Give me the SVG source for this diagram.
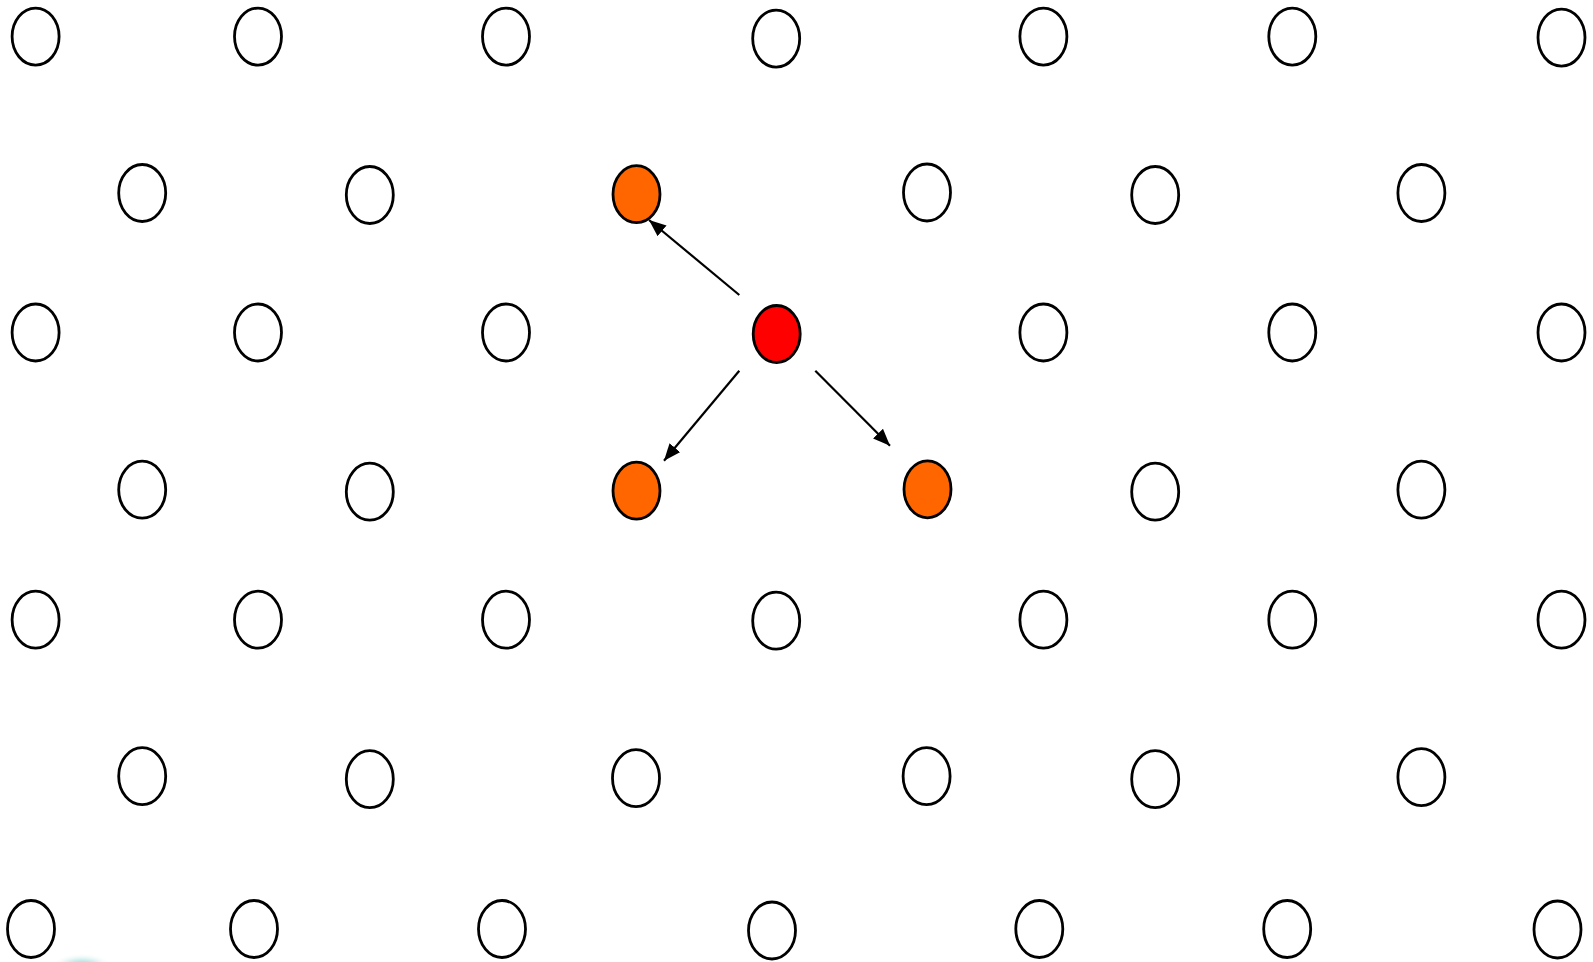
<svg xmlns="http://www.w3.org/2000/svg" width="1593" height="962" viewBox="0 0 1593 962">
  <defs>
    <style>
      .n { fill: #ffffff; stroke: #000000; stroke-width: 2.8; }
      .o { fill: #ff6600; stroke: #000000; stroke-width: 2.8; }
      .r { fill: #ff0000; stroke: #000000; stroke-width: 2.8; }
      .c { stroke: #000000; stroke-width: 2.2; fill: none; marker-end: url(#arr); }
    </style>
    <marker id="arr" markerUnits="userSpaceOnUse" markerWidth="18" markerHeight="14" refX="17" refY="7" orient="auto">
      <path d="M0,0 L17,7 L0,14 z" fill="#000000"/>
    </marker>
    <radialGradient id="smudge" cx="0.5" cy="0.5" r="0.5">
      <stop offset="0" stop-color="#2fb5b0" stop-opacity="0.9"/>
      <stop offset="0.6" stop-color="#9fdcd8" stop-opacity="0.4"/>
      <stop offset="1" stop-color="#ffffff" stop-opacity="0"/>
    </radialGradient>
  </defs>
  <rect width="1593" height="962" fill="#ffffff"/>

  <!-- row 1 -->
  <g id="n1-1"><ellipse class="n" cx="35.6" cy="36.6" rx="23.5" ry="28.5"/></g>
  <g id="n1-2"><ellipse class="n" cx="258" cy="36.6" rx="23.5" ry="28.5"/></g>
  <g id="n1-3"><ellipse class="n" cx="506" cy="36.6" rx="23.5" ry="28.5"/></g>
  <g id="n1-4"><ellipse class="n" cx="776.2" cy="38.6" rx="23.5" ry="28.5"/></g>
  <g id="n1-5"><ellipse class="n" cx="1043.4" cy="36.6" rx="23.5" ry="28.5"/></g>
  <g id="n1-6"><ellipse class="n" cx="1292.3" cy="36.6" rx="23.5" ry="28.5"/></g>
  <g id="n1-7"><ellipse class="n" cx="1561.5" cy="37.6" rx="23.5" ry="28.5"/></g>

  <!-- row 2 -->
  <g id="n2-1"><ellipse class="n" cx="142.2" cy="193" rx="23.5" ry="28.5"/></g>
  <g id="n2-2"><ellipse class="n" cx="369.8" cy="195" rx="23.5" ry="28.5"/></g>
  <g id="n2-3"><ellipse class="o" cx="636.5" cy="194.2" rx="23.5" ry="28.5"/></g>
  <g id="n2-4"><ellipse class="n" cx="927" cy="192.5" rx="23.5" ry="28.5"/></g>
  <g id="n2-5"><ellipse class="n" cx="1155.2" cy="195" rx="23.5" ry="28.5"/></g>
  <g id="n2-6"><ellipse class="n" cx="1421.4" cy="193" rx="23.5" ry="28.5"/></g>

  <!-- row 3 -->
  <g id="n3-1"><ellipse class="n" cx="35.6" cy="332.5" rx="23.5" ry="28.5"/></g>
  <g id="n3-2"><ellipse class="n" cx="258" cy="332.5" rx="23.5" ry="28.5"/></g>
  <g id="n3-3"><ellipse class="n" cx="506" cy="332.5" rx="23.5" ry="28.5"/></g>
  <g id="n3-4"><ellipse class="r" cx="776.7" cy="334" rx="23.5" ry="28.5"/></g>
  <g id="n3-5"><ellipse class="n" cx="1043.4" cy="332.5" rx="23.5" ry="28.5"/></g>
  <g id="n3-6"><ellipse class="n" cx="1292.3" cy="332.5" rx="23.5" ry="28.5"/></g>
  <g id="n3-7"><ellipse class="n" cx="1561.5" cy="332.5" rx="23.5" ry="28.5"/></g>

  <!-- row 4 -->
  <g id="n4-1"><ellipse class="n" cx="142.2" cy="489.7" rx="23.5" ry="28.5"/></g>
  <g id="n4-2"><ellipse class="n" cx="369.8" cy="491.7" rx="23.5" ry="28.5"/></g>
  <g id="n4-3"><ellipse class="o" cx="636.5" cy="490.7" rx="23.5" ry="28.5"/></g>
  <g id="n4-4"><ellipse class="o" cx="927.5" cy="489.3" rx="23.5" ry="28.5"/></g>
  <g id="n4-5"><ellipse class="n" cx="1155.2" cy="491.7" rx="23.5" ry="28.5"/></g>
  <g id="n4-6"><ellipse class="n" cx="1421.4" cy="489.7" rx="23.5" ry="28.5"/></g>

  <!-- row 5 -->
  <g id="n5-1"><ellipse class="n" cx="35.6" cy="619.7" rx="23.5" ry="28.5"/></g>
  <g id="n5-2"><ellipse class="n" cx="258" cy="619.7" rx="23.5" ry="28.5"/></g>
  <g id="n5-3"><ellipse class="n" cx="506" cy="619.7" rx="23.5" ry="28.5"/></g>
  <g id="n5-4"><ellipse class="n" cx="776.2" cy="620.7" rx="23.5" ry="28.5"/></g>
  <g id="n5-5"><ellipse class="n" cx="1043.4" cy="619.7" rx="23.5" ry="28.5"/></g>
  <g id="n5-6"><ellipse class="n" cx="1292.3" cy="619.7" rx="23.5" ry="28.5"/></g>
  <g id="n5-7"><ellipse class="n" cx="1561.5" cy="619.7" rx="23.5" ry="28.5"/></g>

  <!-- row 6 -->
  <g id="n6-1"><ellipse class="n" cx="142.2" cy="776.2" rx="23.5" ry="28.5"/></g>
  <g id="n6-2"><ellipse class="n" cx="369.8" cy="779.2" rx="23.5" ry="28.5"/></g>
  <g id="n6-3"><ellipse class="n" cx="636" cy="778.2" rx="23.5" ry="28.5"/></g>
  <g id="n6-4"><ellipse class="n" cx="926.6" cy="776.2" rx="23.5" ry="28.5"/></g>
  <g id="n6-5"><ellipse class="n" cx="1155.2" cy="779.2" rx="23.5" ry="28.5"/></g>
  <g id="n6-6"><ellipse class="n" cx="1421.4" cy="777.2" rx="23.5" ry="28.5"/></g>

  <!-- row 7 -->
  <g id="n7-1"><ellipse class="n" cx="31" cy="929" rx="23.5" ry="28.5"/></g>
  <g id="n7-2"><ellipse class="n" cx="254" cy="929" rx="23.5" ry="28.5"/></g>
  <g id="n7-3"><ellipse class="n" cx="502" cy="929" rx="23.5" ry="28.5"/></g>
  <g id="n7-4"><ellipse class="n" cx="772" cy="930.5" rx="23.5" ry="28.5"/></g>
  <g id="n7-5"><ellipse class="n" cx="1039.3" cy="929" rx="23.5" ry="28.5"/></g>
  <g id="n7-6"><ellipse class="n" cx="1287.2" cy="929" rx="23.5" ry="28.5"/></g>
  <g id="n7-7"><ellipse class="n" cx="1557.5" cy="929.5" rx="23.5" ry="28.5"/></g>

  <!-- faint cyan smudge at bottom edge -->
  <ellipse cx="82" cy="968" rx="32" ry="15" fill="url(#smudge)"/>

  <g id="connectors">
    <line class="c" x1="739.3" y1="295" x2="649" y2="220"/>
    <line class="c" x1="739.3" y1="370.7" x2="664" y2="460.7"/>
    <line class="c" x1="815.3" y1="370.7" x2="890" y2="445.7"/>
  </g>
</svg>
